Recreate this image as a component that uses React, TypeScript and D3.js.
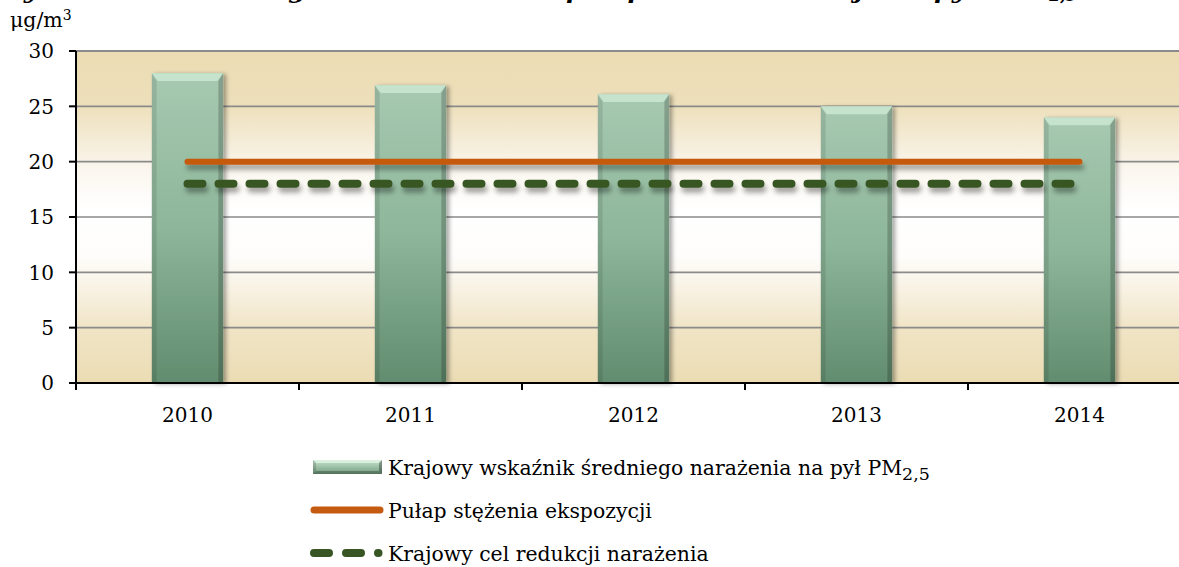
import React from 'react'
import * as d3 from 'd3'

// data
const years = ['2010', '2011', '2012', '2013', '2014']
const exposure = [28, 26.9, 26.1, 25, 24]
const ceiling = [20, 20, 20, 20, 20]
const target = [18, 18, 18, 18, 18]
const yTicks = [0, 5, 10, 15, 20, 25, 30]
const legendLabels = [
  'Krajowy wskaźnik średniego narażenia na pył PM',
  'Pułap stężenia ekspozycji',
  'Krajowy cel redukcji narażenia',
]

const W = 1179
const H = 567
const FONT = '"DejaVu Serif", serif'

const x = d3.scaleBand<string>().domain(years).range([76, 76 + 5 * 223])
const y = d3.scaleLinear().domain([0, 30]).range([383, 51])
const barW = x.bandwidth() * 0.32
const cx = (d: string) => (x(d) as number) + x.bandwidth() / 2

const line = d3.line<number>()
  .x((_, i) => cx(years[i]))
  .y(d => y(d))

function Bar({ bx, by, bw, bh, bev }: { bx: number; by: number; bw: number; bh: number; bev: number }) {
  const pts = (p: number[][]) => p.map(q => q.join(',')).join(' ')
  return (
    <g>
      <rect x={bx} y={by} width={bw} height={bh} fill="url(#barGrad)" filter="url(#barShadow)" />
      <polygon points={pts([[bx, by], [bx + bw, by], [bx + bw - bev, by + bev * 1.3], [bx + bev, by + bev * 1.3]])}
        fill="#cbe8d2" opacity={0.85} />
      <polygon points={pts([[bx, by], [bx + bev * 0.8, by + bev * 1.3], [bx + bev * 0.8, by + bh], [bx, by + bh]])}
        fill="#000" opacity={0.1} />
      <polygon points={pts([[bx + bw, by], [bx + bw - bev * 0.8, by + bev * 1.3], [bx + bw - bev * 0.8, by + bh], [bx + bw, by + bh]])}
        fill="#000" opacity={0.2} />
    </g>
  )
}

export default function App() {
  const grid = yTicks.filter(t => t > 0)
  return (
    <svg width={W} height={H} style={{ position: 'absolute', left: 0, top: 0, display: 'block', background: '#fff' }}
      fontFamily={FONT}>
      <defs>
        <linearGradient id="bgGrad" x1="0" y1="0" x2="0" y2="1">
          <stop offset="0" stopColor="#ebdcb3" />
          <stop offset="0.16" stopColor="#eddfba" />
          <stop offset="0.36" stopColor="#fbf7ef" />
          <stop offset="0.48" stopColor="#ffffff" />
          <stop offset="0.62" stopColor="#fefdfb" />
          <stop offset="0.84" stopColor="#f0e4c5" />
          <stop offset="1" stopColor="#ebdcb3" />
        </linearGradient>
        <linearGradient id="barGrad" x1="0" y1="0" x2="0" y2="1">
          <stop offset="0" stopColor="#a7c9b1" />
          <stop offset="0.5" stopColor="#8db69a" />
          <stop offset="1" stopColor="#628c6e" />
        </linearGradient>
        <linearGradient id="legBarGrad" x1="0" y1="0" x2="0" y2="1">
          <stop offset="0" stopColor="#c9e6d0" />
          <stop offset="1" stopColor="#6f9a7c" />
        </linearGradient>
        <filter id="barShadow" x="-20%" y="-10%" width="150%" height="120%">
          <feDropShadow dx="3" dy="1" stdDeviation="2" floodColor="#000" floodOpacity="0.35" />
        </filter>
        <filter id="lineShadow" filterUnits="userSpaceOnUse" x={0} y={0} width={W} height={H}>
          <feDropShadow dx="2" dy="5" stdDeviation="2.5" floodColor="#000" floodOpacity="0.35" />
        </filter>
      </defs>

      {/* title, cut off by the top edge */}
      <text x={1077} y={-2} textAnchor="end" fontSize={25} fontWeight="bold" fontStyle="italic" fill="#000">
        Rys. 1. Krajowy wskaźnik średniego narażenia na tle pułapu i celu redukcji dla pyłu PM
        <tspan fontSize={16} dy={3}>2,5</tspan>
      </text>

      {/* unit */}
      <text x={10} y={27} fontSize={20.5} fill="#000">
        μg/m<tspan fontSize={14} dy={-7}>3</tspan>
      </text>

      {/* plot background */}
      <rect x={76} y={y(30)} width={x.range()[1] - 76} height={y(0) - y(30)} fill="url(#bgGrad)" />
      {grid.map(t => (
        <line key={t} x1={76} x2={x.range()[1]} y1={y(t)} y2={y(t)} stroke="#8a8a8a" strokeWidth={t === 30 ? 2.2 : 1.6} />
      ))}

      {/* bars */}
      {years.map((d, i) => (
        <Bar key={d} bx={cx(d) - barW / 2} by={y(exposure[i])} bw={barW} bh={y(0) - y(exposure[i])} bev={6} />
      ))}

      {/* lines */}
      <path d={line(ceiling) as string} fill="none" stroke="#c55a11" strokeWidth={6} strokeLinecap="round"
        filter="url(#lineShadow)" />
      <path d={line(target) as string} fill="none" stroke="#375623" strokeWidth={8} strokeLinecap="round"
        strokeDasharray="15 16" filter="url(#lineShadow)" />

      {/* axes */}
      <line x1={76} x2={76} y1={y(30)} y2={y(0) + 7} stroke="#000" strokeWidth={2} />
      <line x1={69} x2={x.range()[1]} y1={y(0)} y2={y(0)} stroke="#000" strokeWidth={2} />
      {yTicks.map(t => (
        <g key={t}>
          <line x1={69} x2={76} y1={y(t)} y2={y(t)} stroke="#000" strokeWidth={2} />
          <text x={54} y={y(t)} dy="0.36em" textAnchor="end" fontSize={20} fill="#000">{t}</text>
        </g>
      ))}
      {years.slice(1).map(d => (
        <line key={d} x1={x(d) as number} x2={x(d) as number} y1={y(0)} y2={y(0) + 7} stroke="#000" strokeWidth={2} />
      ))}
      {years.map(d => (
        <text key={d} x={cx(d)} y={422} textAnchor="middle" fontSize={20} fill="#000">{d}</text>
      ))}

      {/* legend */}
      <g>
        <rect x={313} y={460} width={69} height={14} fill="url(#legBarGrad)" />
        <polygon points="313,460 382,460 379,463 316,463" fill="#d8f0dd" />
        <polygon points="313,474 382,474 379,471 316,471" fill="#000" opacity={0.25} />
        <polygon points="313,460 316,463 316,471 313,474" fill="#000" opacity={0.15} />
        <polygon points="382,460 379,463 379,471 382,474" fill="#000" opacity={0.3} />
        <text x={388} y={475} fontSize={20.4} fill="#000">
          {legendLabels[0]}<tspan fontSize={17.5} dy={5}>2,5</tspan>
        </text>

        <line x1={314} x2={380} y1={510} y2={510} stroke="#c55a11" strokeWidth={7} strokeLinecap="round" />
        <text x={388} y={518} fontSize={20.4} fill="#000">{legendLabels[1]}</text>

        <line x1={314} x2={378.5} y1={553} y2={553} stroke="#375623" strokeWidth={8} strokeLinecap="round"
          strokeDasharray="15 17" />
        <text x={388} y={561} fontSize={20.4} fill="#000">{legendLabels[2]}</text>
      </g>
    </svg>
  )
}
